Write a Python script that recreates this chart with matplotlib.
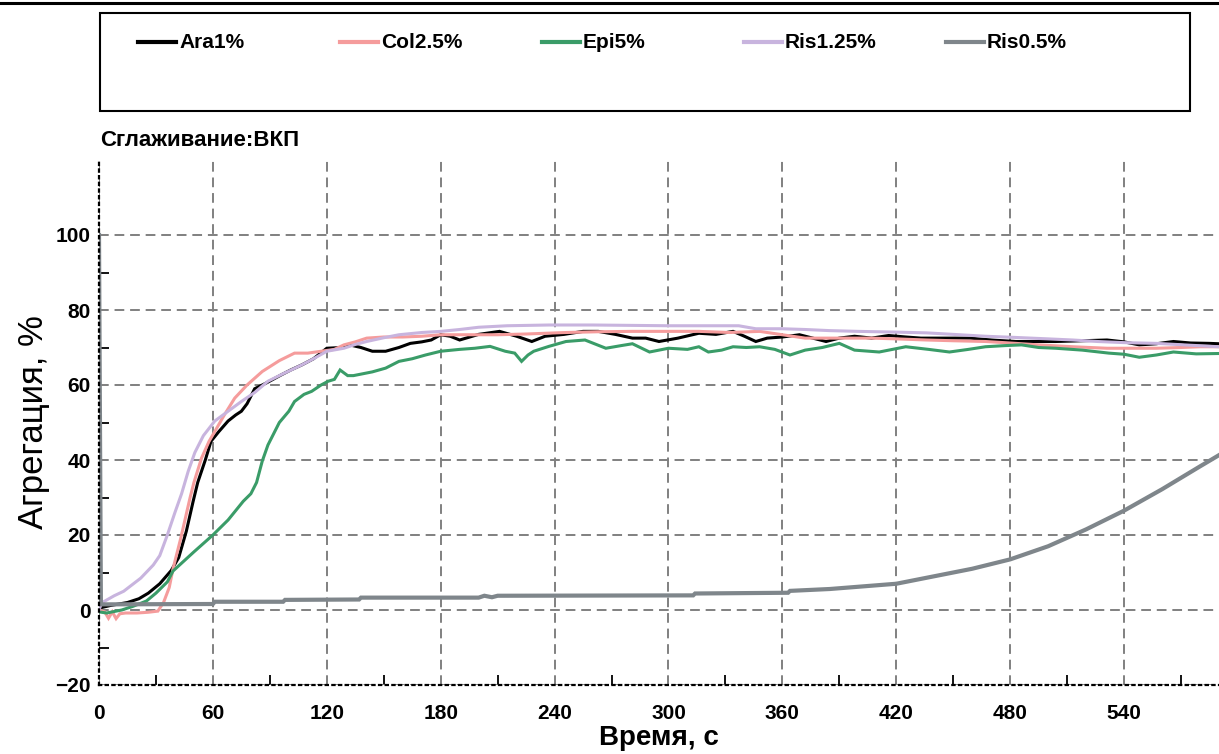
import numpy as np
import matplotlib
matplotlib.use('Agg')
from matplotlib import pyplot as plt
from matplotlib.lines import Line2D
from matplotlib.patches import Rectangle
from matplotlib.ticker import FixedLocator

plt.rcParams['font.family'] = ['Liberation Sans', 'DejaVu Sans']

# series values (time in s, aggregation in %)
names = ['Ara1%', 'Col2.5%', 'Epi5%', 'Ris1.25%', 'Ris0.5%']
colors = ['#000000', '#f59c9c', '#3a9c68', '#c8b4de', '#7f868b']

ara_t = [0, 6, 15, 21, 26, 32, 38, 42, 46, 49.6, 52, 56, 59, 63, 68, 72, 75, 78, 82, 88, 96, 101, 107, 113,
         120, 128, 132, 138, 144, 151, 158, 164, 170, 175, 180, 185, 190, 200, 211, 220, 228, 235, 245, 255,
         263, 272, 281, 288, 295, 305, 316, 325, 334, 340, 346, 352, 360, 369, 376, 383, 390, 398, 407, 416,
         425, 433, 445, 459, 470, 483, 494, 504, 518, 531, 540, 548, 557, 566, 575, 585, 590]
ara_v = [0.5, 1.2, 2, 3, 4.5, 7, 10.5, 14, 21, 29, 34, 40, 45, 47.5, 50.4, 52, 53, 55, 59, 60.5, 62.7, 64,
         65.4, 67, 69.8, 70, 70.7, 70, 69, 69, 70, 71.1, 71.5, 72, 73.4, 73, 72, 73.5, 74.3, 73, 71.6, 73,
         73.5, 74.3, 74.3, 73.5, 72.5, 72.5, 71.6, 72.5, 73.8, 73.5, 74.3, 73, 71.6, 72.5, 72.8, 73.4, 72.5,
         71.6, 72.5, 73, 72.5, 73.2, 72.8, 72.5, 72.5, 72.5, 72, 71.6, 71.6, 71.6, 71.8, 72, 71.5, 70.7, 71,
         71.6, 71.2, 71.1, 71]

col_t = [0, 3, 5, 7, 9, 11, 14, 20, 26, 31, 34, 37, 39, 43, 48, 50, 54, 58, 61, 66, 71.5, 78, 86, 95, 103,
         110, 117, 124, 129, 135, 141, 150, 160, 170, 180, 195, 210, 225, 246, 263, 281, 300, 316, 332, 348,
         360, 372, 390, 407, 420, 436, 450, 467, 480, 495, 513, 531, 545, 557, 570, 580, 590]
col_v = [0, -0.5, -2.2, -0.5, -2.3, -1, -0.8, -0.8, -0.6, -0.3, 2, 6, 11, 19, 30, 34, 40.5, 45, 47.6, 52,
         56.5, 60, 63.6, 66.5, 68.5, 68.5, 69, 69.5, 70.7, 71.5, 72.5, 72.8, 72.8, 73, 73.4, 73.4, 73.4,
         73.6, 74, 74.2, 74.3, 74.3, 74.3, 74, 74.3, 73.4, 72.5, 72.5, 72.5, 72.3, 72, 71.8, 71.6, 71.2,
         70.7, 70.2, 69.8, 69.8, 69.8, 70, 70.2, 70.2]

epi_t = [0, 4, 7, 12, 18, 25, 30, 36, 39, 50, 60, 68, 76, 80, 83, 86, 89, 92, 95, 100, 103, 108, 112, 117,
         120.7, 124, 127, 131, 134, 139, 144, 151, 158, 165, 172, 180, 190, 198, 206, 214, 219, 222.6, 226,
         229, 237, 246, 256, 267, 275, 281, 290, 300, 310, 316, 321, 328, 334, 341, 348, 356, 364, 372, 381,
         390, 398, 411, 418, 425, 437, 448, 458, 467, 477, 486, 495, 504, 518, 532, 540, 548, 557, 566, 578,
         590]
epi_v = [-0.5, -0.8, -0.5, 0, 1, 2.4, 4.5, 7.5, 10.4, 15.5, 20, 24, 29, 31, 34, 39.7, 44, 47, 50, 53, 55.6,
         57.5, 58.3, 60, 61, 61.5, 64, 62.5, 62.5, 63, 63.5, 64.5, 66.3, 67, 68, 69, 69.5, 69.8, 70.3, 69,
         68.5, 66.3, 68, 69, 70.3, 71.6, 72, 69.8, 70.5, 71, 68.8, 69.8, 69.5, 70.2, 68.8, 69.3, 70.2, 70,
         70.2, 69.5, 68, 69.3, 70, 71.1, 69.3, 68.8, 69.5, 70.2, 69.5, 68.8, 69.5, 70.2, 70.5, 70.7, 70, 69.8,
         69.3, 68.5, 68.2, 67.4, 68, 68.8, 68.3, 68.4]

ris125_t = [0, 1.4, 8, 13, 22, 28.6, 32, 36, 40, 43.5, 47, 50.5, 55, 61, 68, 75, 82, 89, 97, 107, 113, 120,
            129, 135, 141, 150, 158, 170, 180, 190, 200, 215, 237, 260, 300, 320, 337, 346, 360, 372, 385,
            400, 420, 436, 450, 467, 482, 500, 513, 526, 540, 557, 575, 590]
ris125_v = [0, 1.9, 3.8, 5, 8.5, 12, 14.5, 20, 26, 31, 37, 42, 46.5, 50.4, 53, 55.6, 58, 61, 63, 65.4, 67,
            69, 69.8, 70.8, 71.6, 72.6, 73.4, 74, 74.3, 74.8, 75.4, 75.8, 76, 76, 75.8, 75.8, 75.8, 75, 75,
            74.8, 74.5, 74.3, 74.1, 73.9, 73.5, 73, 72.7, 72.3, 72, 71.6, 71.3, 71.1, 70.6, 70.2]

ris05_t = [0, 1, 60, 61, 97, 98, 137, 138, 200, 203, 207, 210, 313, 314, 363, 364, 385, 400, 420, 440, 460,
           480, 500, 520, 540, 560, 580, 590]
ris05_v = [100, 1.5, 1.6, 2.2, 2.2, 2.7, 2.8, 3.3, 3.3, 3.8, 3.4, 3.8, 3.9, 4.4, 4.6, 5.1, 5.6, 6.2, 7.0,
           9, 11, 13.5, 17, 21.5, 26.5, 32.2, 38.3, 41.3]

series_t = [ara_t, col_t, epi_t, ris125_t, ris05_t]
series_v = [ara_v, col_v, epi_v, ris125_v, ris05_v]
widths = [2.2, 2.2, 2.2, 2.2, 3.0]

x_ticks = [0, 60, 120, 180, 240, 300, 360, 420, 480, 540]
y_ticks = [-20, 0, 20, 40, 60, 80, 100]
x_minor = [30, 90, 150, 210, 270, 330, 390, 450, 510, 570]
y_minor = [-10, 10, 30, 50, 70, 90]

W, H = 1219, 754
fig = plt.figure(figsize=(W / 100, H / 100), dpi=100)
ax = fig.add_axes([99 / W, 1 - 685 / H, 1120 / W, 525 / H])

for t, v, c, lw, name in zip(series_t, series_v, colors, widths, names):
    ax.plot(t, v, color=c, lw=lw, label=name, solid_joinstyle='miter')

ax.set_xlim(0, 590)
ax.set_ylim(-20, 120)
ax.set_xticks(x_ticks)
ax.set_yticks(y_ticks)
ax.xaxis.set_minor_locator(FixedLocator(x_minor))
ax.yaxis.set_minor_locator(FixedLocator(y_minor))
ax.tick_params(which='major', length=0)
ax.tick_params(axis='y', which='major', pad=6)
ax.tick_params(axis='x', which='major', pad=14)
ax.tick_params(which='minor', direction='in', length=7, width=1.3, color='black')
for lab in ax.get_xticklabels() + ax.get_yticklabels():
    lab.set_fontsize(15)
    lab.set_fontweight('bold')

ax.grid(True, which='major', color='#808080', linestyle=(0, (5, 3)), linewidth=1.4)
ax.set_axisbelow(True)
for s in ['top', 'right']:
    ax.spines[s].set_visible(False)
for s in ['left', 'bottom']:
    ax.spines[s].set_linestyle((0, (1, 2)))
    ax.spines[s].set_linewidth(1.6)
    ax.spines[s].set_color('black')

ax.set_xlabel('Время, с', fontsize=20, fontweight='bold', labelpad=1)
ax.set_ylabel('Агрегация, %', fontsize=25, labelpad=4)

fig.text(100 / W, 1 - 140 / H, 'Сглаживание:ВКП', fontsize=16, fontweight='bold', va='center', ha='left')

# top rule and legend box
fig.add_artist(Line2D([0, 1], [1 - 3 / H, 1 - 3 / H], color='black', lw=2.2))
fig.add_artist(Rectangle((100 / W, 1 - 111 / H), 1090 / W, 98 / H, fill=False, edgecolor='black', lw=1.5))
for i, (name, c) in enumerate(zip(names, colors)):
    x0 = 138 + i * 202
    y0 = 1 - 42 / H
    fig.add_artist(Line2D([x0 / W, (x0 + 38) / W], [y0, y0], color=c, lw=3))
    fig.text((x0 + 41) / W, y0, name, fontsize=15, fontweight='bold', va='center', ha='left')

fig.savefig('out.png', dpi=100)
